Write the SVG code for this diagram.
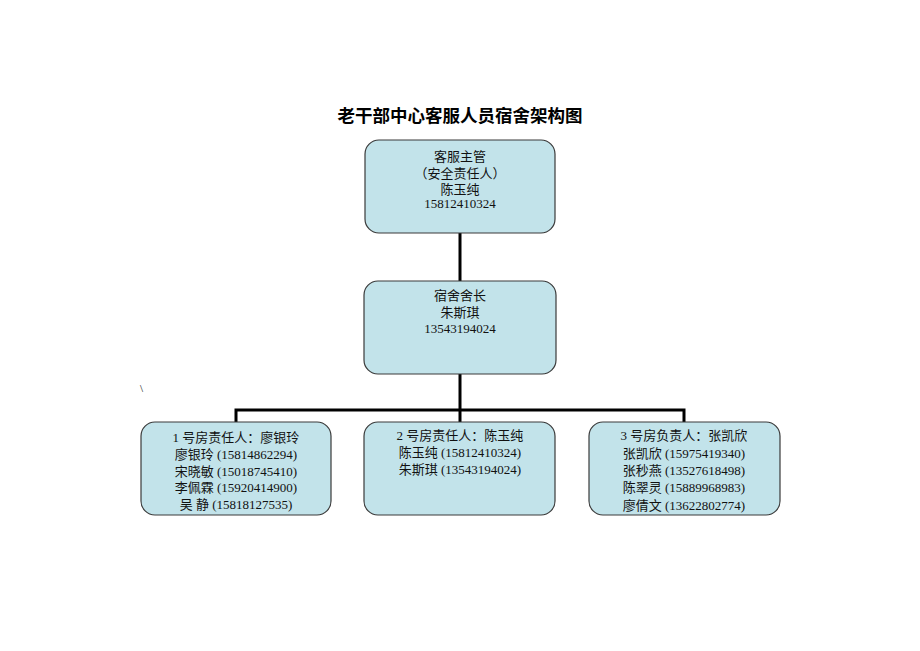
<svg xmlns="http://www.w3.org/2000/svg" width="920" height="651" viewBox="0 0 920 651">
<style>
.bg{fill:#ffffff}
.box{fill:#c2e3ea;stroke:#3a3a3a;stroke-width:1.2}
.t{font-family:"Liberation Serif","Noto Sans CJK SC",serif;font-size:13px;fill:#111;text-anchor:middle}
.title{font-family:"Liberation Sans","Noto Sans CJK SC",sans-serif;font-size:17.5px;font-weight:bold;fill:#000;text-anchor:middle}
.conn{fill:none;stroke:#000;stroke-width:3}
</style>
<rect class="bg" x="0" y="0" width="920" height="651"/>
<text class="title" x="460" y="122">老干部中心客服人员宿舍架构图</text>
<text class="t" x="140" y="392" style="text-anchor:start;font-size:11px">\</text>
<g id="connectors">
<path class="conn" d="M460 233 V281"/>
<path class="conn" d="M460 374 V410"/>
<path class="conn" d="M236 422 V410 H684 V422"/>
<path class="conn" d="M460 410 V422"/>
</g>
<g id="node-supervisor">
<rect class="box" x="365" y="140" width="190" height="93" rx="14"/>
<text class="t" x="460" y="161">客服主管</text>
<text class="t" x="460" y="178">（安全责任人）</text>
<text class="t" x="460" y="194">陈玉纯</text>
<text class="t" x="460" y="208">15812410324</text>
</g>
<g id="node-dormhead">
<rect class="box" x="364" y="281" width="192" height="93" rx="14"/>
<text class="t" x="460" y="300">宿舍舍长</text>
<text class="t" x="460" y="317">朱斯琪</text>
<text class="t" x="460" y="333">13543194024</text>
</g>
<g id="node-room1">
<rect class="box" x="141" y="422" width="190" height="93" rx="14"/>
<text class="t" x="236" y="442">1 号房责任人：廖银玲</text>
<text class="t" x="236" y="459">廖银玲 (15814862294)</text>
<text class="t" x="236" y="476">宋晓敏 (15018745410)</text>
<text class="t" x="236" y="492">李佩霖 (15920414900)</text>
<text class="t" x="236" y="509">吴  静 (15818127535)</text>
</g>
<g id="node-room2">
<rect class="box" x="364" y="422" width="191" height="93" rx="14"/>
<text class="t" x="460" y="440">2 号房责任人：陈玉纯</text>
<text class="t" x="460" y="457">陈玉纯 (15812410324)</text>
<text class="t" x="460" y="474">朱斯琪 (13543194024)</text>
</g>
<g id="node-room3">
<rect class="box" x="589" y="422" width="191" height="93" rx="14"/>
<text class="t" x="684" y="440">3 号房负责人：张凯欣</text>
<text class="t" x="684" y="458">张凯欣 (15975419340)</text>
<text class="t" x="684" y="475">张秒燕 (13527618498)</text>
<text class="t" x="684" y="492">陈翠灵 (15889968983)</text>
<text class="t" x="684" y="510">廖倩文 (13622802774)</text>
</g>
</svg>
